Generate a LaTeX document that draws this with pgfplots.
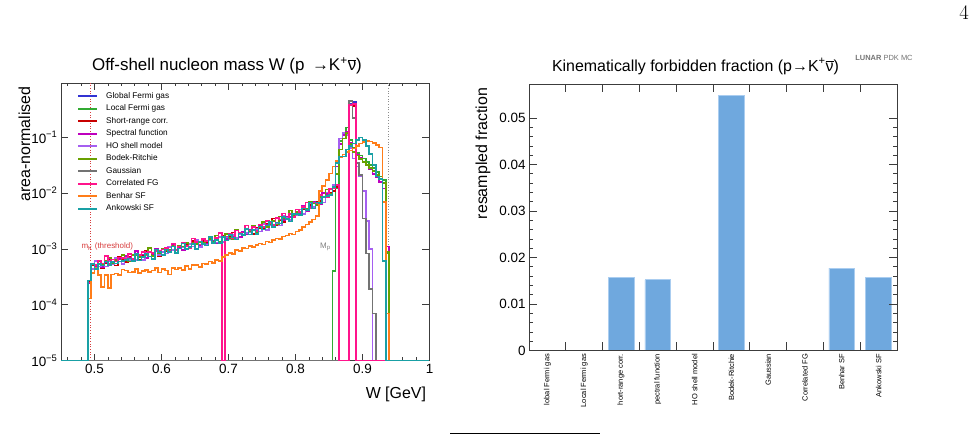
\documentclass[border=0pt]{standalone}
\usepackage{fontspec}
\setmainfont{Liberation Sans}
\setsansfont{Liberation Sans}
\usepackage{pgfplots}
\usepackage{pgfplotstable}
\pgfplotsset{compat=1.18}

\definecolor{cGFG}{RGB}{50,50,210}
\definecolor{cLFG}{RGB}{50,170,50}
\definecolor{cSRC}{RGB}{200,0,0}
\definecolor{cSF}{RGB}{190,0,190}
\definecolor{cHO}{RGB}{165,95,240}
\definecolor{cBR}{RGB}{105,160,0}
\definecolor{cGS}{RGB}{115,115,115}
\definecolor{cCFG}{RGB}{255,20,140}
\definecolor{cBSF}{RGB}{255,125,25}
\definecolor{cASF}{RGB}{25,160,165}
\definecolor{barfill}{RGB}{111,168,222}
\definecolor{baredge}{RGB}{170,205,240}
\definecolor{framec}{RGB}{60,60,60}
\definecolor{mkred}{RGB}{215,60,60}

\newcommand{\fs}[1]{\fontsize{#1}{#1}\selectfont}

\pgfplotsset{
  hist/.style={const plot mark left, line width=1.6bp,
    legend image code/.code={\draw[##1, line width=2bp] (0bp,0bp) -- (19bp,0bp);}},
}

% area-normalised W distributions, bin width 0.005 GeV, value at left bin edge
\pgfplotstableread{
x gfg lfg src sf ho br gs cfg bsf asf
0.45 1e-5 1e-5 1e-5 1e-5 1e-5 1e-5 1e-5 1e-5 1e-5 1e-5
0.49 1e-5 1e-5 2.6e-4 2.4e-4 2.5e-4 2.7e-4 1e-5 2.5e-4 1.3e-4 2.7e-4
0.495 1e-5 1e-5 5.1e-4 5.5e-4 4.4e-4 5.3e-4 1e-5 5.4e-4 3.7e-4 5.4e-4
0.500 1e-5 1e-5 4.6e-4 4.9e-4 6.1e-4 4.6e-4 1e-5 5.1e-4 4.5e-4 4.4e-4
0.505 1e-5 1e-5 6.0e-4 6.0e-4 4.8e-4 6.1e-4 1e-5 6.2e-4 3.4e-4 5.3e-4
0.510 1e-5 1e-5 4.6e-4 4.7e-4 5.5e-4 5.2e-4 1e-5 5.5e-4 2.1e-4 5.0e-4
0.515 1e-5 1e-5 5.5e-4 5.7e-4 4.8e-4 6.2e-4 1e-5 7.4e-4 3.4e-4 5.9e-4
0.520 1e-5 1e-5 6.3e-4 6.9e-4 6.1e-4 7.0e-4 1e-5 5.4e-4 2.0e-4 5.0e-4
0.525 1e-5 1e-5 5.5e-4 5.5e-4 5.3e-4 5.5e-4 1e-5 6.5e-4 3.5e-4 5.8e-4
0.530 1e-5 1e-5 5.0e-4 6.0e-4 6.8e-4 6.3e-4 1e-5 5.9e-4 3.6e-4 5.5e-4
0.535 1e-5 1e-5 7.3e-4 6.6e-4 5.9e-4 5.9e-4 1e-5 7.0e-4 3.4e-4 5.9e-4
0.540 1e-5 1e-5 6.5e-4 5.5e-4 5.4e-4 7.7e-4 1e-5 6.8e-4 4.3e-4 6.0e-4
0.545 1e-5 1e-5 5.8e-4 7.5e-4 6.9e-4 6.7e-4 1e-5 6.6e-4 4.1e-4 6.3e-4
0.550 1e-5 1e-5 7.3e-4 6.8e-4 6.3e-4 5.9e-4 1e-5 8.1e-4 3.8e-4 6.7e-4
0.555 1e-5 1e-5 6.5e-4 6.3e-4 8.0e-4 7.8e-4 1e-5 6.6e-4 3.9e-4 6.0e-4
0.560 1e-5 1e-5 8.2e-4 9.1e-4 6.4e-4 7.7e-4 1e-5 8.1e-4 4.4e-4 8.1e-4
0.565 1e-5 1e-5 6.3e-4 7.1e-4 7.4e-4 7.2e-4 1e-5 7.7e-4 3.7e-4 6.2e-4
0.570 1e-5 1e-5 7.5e-4 8.0e-4 6.3e-4 8.7e-4 1e-5 8.8e-4 4.0e-4 7.2e-4
0.575 1e-5 1e-5 9.1e-4 6.9e-4 8.4e-4 7.8e-4 1e-5 7.6e-4 4.2e-4 8.3e-4
0.580 1e-5 1e-5 7.3e-4 8.9e-4 7.3e-4 10.3e-4 1e-5 8.9e-4 3.9e-4 7.3e-4
0.585 1e-5 1e-5 8.0e-4 7.8e-4 8.5e-4 7.5e-4 1e-5 8.5e-4 4.1e-4 6.6e-4
0.590 1e-5 1e-5 9.0e-4 9.9e-4 9.7e-4 9.1e-4 1e-5 9.1e-4 4.6e-4 9.8e-4
0.595 1e-5 1e-5 7.5e-4 8.9e-4 7.7e-4 8.4e-4 1e-5 9.3e-4 3.8e-4 8.7e-4
0.600 1e-5 1e-5 10.1e-4 8.0e-4 8.9e-4 10.1e-4 1e-5 9.7e-4 4.4e-4 7.7e-4
0.605 1e-5 1e-5 9.2e-4 10.1e-4 8.3e-4 9.6e-4 1e-5 10.3e-4 4.1e-4 9.7e-4
0.610 1e-5 1e-5 8.6e-4 9.5e-4 10.8e-4 9.5e-4 1e-5 9.4e-4 3.5e-4 8.9e-4
0.615 1e-5 1e-5 12.3e-4 12.1e-4 9.5e-4 11.6e-4 1e-5 12.5e-4 4.5e-4 11.0e-4
0.620 1e-5 1e-5 9.6e-4 9.4e-4 8.4e-4 9.6e-4 1e-5 9.5e-4 4.3e-4 8.4e-4
0.625 1e-5 1e-5 10.8e-4 10.8e-4 11.0e-4 11.3e-4 1e-5 11.0e-4 4.6e-4 10.1e-4
0.630 1e-5 1e-5 9.5e-4 9.5e-4 10.8e-4 11.0e-4 1e-5 12.9e-4 4.2e-4 12.4e-4
0.635 1e-5 1e-5 12.2e-4 12.7e-4 10.1e-4 12.7e-4 1e-5 11.3e-4 4.9e-4 9.9e-4
0.640 1e-5 1e-5 10.5e-4 10.9e-4 12.3e-4 11.0e-4 1e-5 10.3e-4 4.4e-4 10.8e-4
0.645 1e-5 1e-5 13.7e-4 12.8e-4 11.1e-4 12.8e-4 1e-5 15.4e-4 5.1e-4 12.3e-4
0.650 1e-5 1e-5 12.0e-4 14.6e-4 14.6e-4 12.2e-4 1e-5 13.3e-4 5.2e-4 10.0e-4
0.655 1e-5 1e-5 10.8e-4 11.3e-4 10.7e-4 13.2e-4 1e-5 11.9e-4 4.7e-4 13.6e-4
0.660 1e-5 1e-5 13.7e-4 13.1e-4 13.0e-4 13.1e-4 1e-5 15.0e-4 5.5e-4 12.3e-4
0.665 1e-5 1e-5 12.9e-4 12.5e-4 11.9e-4 14.0e-4 1e-5 13.9e-4 5.3e-4 11.6e-4
0.670 1e-5 1e-5 16.3e-4 16.0e-4 14.3e-4 14.9e-4 1e-5 16.7e-4 5.9e-4 16.3e-4
0.675 1e-5 1e-5 12.7e-4 13.9e-4 13.5e-4 13.4e-4 1e-5 13.0e-4 5.6e-4 12.8e-4
0.680 1e-5 1e-5 14.7e-4 12.4e-4 13.1e-4 17.5e-4 1e-5 15.5e-4 6.4e-4 14.5e-4
0.685 1e-5 1e-5 12.9e-4 16.6e-4 16.4e-4 13.6e-4 1e-5 19.2e-4 6.0e-4 12.8e-4
0.690 1e-5 1e-5 17.1e-4 15.9e-4 13.4e-4 15.9e-4 1e-5 1e-5 7.2e-4 16.3e-4
0.695 1e-5 1e-5 14.7e-4 14.9e-4 16.1e-4 18.3e-4 1e-5 16.6e-4 7.8e-4 14.1e-4
0.700 1e-5 1e-5 16.9e-4 18.0e-4 15.2e-4 15.8e-4 1e-5 18.5e-4 8.5e-4 17.9e-4
0.705 1e-5 1e-5 19.8e-4 16.4e-4 17.9e-4 14.8e-4 1e-5 15.4e-4 8.1e-4 16.1e-4
0.710 1e-5 1e-5 15.7e-4 21.9e-4 15.8e-4 22.3e-4 1e-5 21.4e-4 9.6e-4 14.8e-4
0.715 1e-5 1e-5 18.2e-4 16.2e-4 18.2e-4 19.2e-4 1e-5 19.4e-4 9.2e-4 18.9e-4
0.720 1e-5 1e-5 17.3e-4 19.9e-4 17.7e-4 17.7e-4 1e-5 18.2e-4 10.5e-4 17.7e-4
0.725 1e-5 1e-5 22.6e-4 18.3e-4 19.5e-4 22.6e-4 1e-5 26.3e-4 10.1e-4 22.8e-4
0.730 1e-5 1e-5 20.2e-4 22.4e-4 19.8e-4 20.8e-4 1e-5 21.2e-4 11.4e-4 18.2e-4
0.735 1e-5 1e-5 18.4e-4 21.8e-4 21.2e-4 25.9e-4 1e-5 24.4e-4 10.8e-4 21.6e-4
0.740 1e-5 1e-5 24.1e-4 21.2e-4 22.6e-4 19.9e-4 1e-5 21.0e-4 11.7e-4 18.4e-4
0.745 1e-5 1e-5 23.6e-4 26.3e-4 20.6e-4 24.5e-4 1e-5 27.5e-4 12.4e-4 25.2e-4
0.750 1e-5 1e-5 22.6e-4 22.3e-4 27.8e-4 30.2e-4 1e-5 24.5e-4 12.0e-4 22.1e-4
0.755 1e-5 1e-5 28.1e-4 27.1e-4 21.6e-4 24.6e-4 1e-5 31.6e-4 13.5e-4 26.1e-4
0.760 1e-5 1e-5 26.1e-4 26.9e-4 26.4e-4 28.0e-4 1e-5 29.1e-4 13.0e-4 30.9e-4
0.765 1e-5 1e-5 35.0e-4 31.6e-4 31.0e-4 31.9e-4 1e-5 26.8e-4 14.6e-4 24.5e-4
0.770 1e-5 1e-5 26.9e-4 28.7e-4 28.1e-4 27.2e-4 1e-5 35.6e-4 15.4e-4 29.9e-4
0.775 1e-5 1e-5 33.2e-4 33.5e-4 26.2e-4 37.9e-4 1e-5 33.5e-4 14.9e-4 28.4e-4
0.780 1e-5 1e-5 30.5e-4 32.8e-4 39.7e-4 35.1e-4 1e-5 43.4e-4 16.8e-4 37.4e-4
0.785 1e-5 1e-5 38.3e-4 36.9e-4 35.9e-4 34.1e-4 1e-5 35.1e-4 17.5e-4 34.1e-4
0.790 1e-5 1e-5 37.2e-4 37.6e-4 32.7e-4 48.7e-4 1e-5 41.7e-4 18.8e-4 30.9e-4
0.795 1e-5 1e-5 37.8e-4 41.0e-4 43.0e-4 40.2e-4 1e-5 37.4e-4 18.1e-4 42.6e-4
0.800 1e-5 1e-5 47.1e-4 44.6e-4 39.6e-4 46.3e-4 1e-5 50.9e-4 20.5e-4 41.7e-4
0.805 1e-5 1e-5 40.7e-4 42.0e-4 50.5e-4 41.6e-4 1e-5 46.0e-4 22.0e-4 40.7e-4
0.810 1e-5 1e-5 51.9e-4 58.8e-4 41.7e-4 57.3e-4 1e-5 56.8e-4 24.8e-4 53.4e-4
0.815 1e-5 1e-5 51.5e-4 47.3e-4 52.5e-4 52.0e-4 1e-5 67.7e-4 27.5e-4 49.4e-4
0.820 1e-5 1e-5 61.8e-4 57.3e-4 66.3e-4 69.1e-4 1e-5 54.5e-4 30.0e-4 67.4e-4
0.825 1e-5 1e-5 57.4e-4 70.3e-4 56.1e-4 64.8e-4 1e-5 67.9e-4 33.8e-4 53.1e-4
0.830 1e-5 1e-5 68.7e-4 64.1e-4 64.1e-4 60.8e-4 1e-5 66.1e-4 39.0e-4 67.4e-4
0.835 1e-5 1e-5 71.9e-4 64.5e-4 78.5e-4 84.5e-4 1e-5 92.6e-4 110e-4 66.0e-4
0.840 1e-5 1e-5 82.9e-4 101e-4 68.3e-4 83.7e-4 1e-5 87.0e-4 135e-4 85.4e-4
0.845 1e-5 1e-5 90.3e-4 95.8e-4 102e-4 116e-4 1e-5 84.8e-4 170e-4 88.5e-4
0.850 1e-5 1e-5 101e-4 92e-4 99e-4 97e-4 1e-5 119e-4 225e-4 92e-4
0.855 1e-5 4e-4 0.011 0.013 0.014 0.013 1e-5 0.012 0.030 0.013
0.860 1e-5 0.012 0.013 0.030 0.035 0.022 1e-5 0.014 0.038 0.035
0.865 1e-5 0.085 1e-5 0.075 0.095 0.060 1e-5 1e-5 0.044 0.045
0.870 1e-5 0.12 1e-5 0.11 0.12 0.095 1e-5 1e-5 0.049 0.045
0.875 1e-5 0.15 1e-5 0.125 0.11 0.12 1e-5 1e-5 0.054 0.060
0.880 0.40 0.09 0.37 0.08 0.065 0.075 0.45 0.38 0.058 0.070
0.885 0.43 0.065 0.36 0.055 0.042 0.055 0.22 0.40 0.063 0.078
0.890 1e-5 0.052 1e-5 0.048 0.030 0.047 0.035 1e-5 0.070 0.090
0.895 1e-5 0.047 1e-5 0.043 0.020 0.041 0.021 1e-5 0.078 0.100
0.900 1e-5 0.042 1e-5 0.037 0.011 0.036 3.5e-3 1e-5 0.083 0.090
0.905 1e-5 0.036 1e-5 0.032 3.2e-3 0.032 8.3e-4 1e-5 0.085 0.070
0.910 1e-5 0.032 1e-5 0.027 1.0e-3 0.028 1.9e-4 1e-5 0.084 0.050
0.915 1e-5 0.028 1e-5 0.022 1e-5 0.025 7e-5 1e-5 0.080 0.032
0.920 1e-5 0.024 1e-5 0.019 1e-5 0.021 1e-5 1e-5 0.072 0.020
0.925 1e-5 0.020 1e-5 0.016 1e-5 0.018 1e-5 1e-5 0.066 0.018
0.930 1e-5 0.017 1e-5 0.012 1e-5 0.015 1e-5 1e-5 7e-3 6e-4
0.935 1e-5 8.5e-4 1e-5 1.1e-3 1e-5 9e-4 1e-5 1e-5 7e-5 1e-5
0.940 1e-5 1e-5 1e-5 1e-5 1e-5 1e-5 1e-5 1e-5 1e-5 1e-5
1.000 1e-5 1e-5 1e-5 1e-5 1e-5 1e-5 1e-5 1e-5 1e-5 1e-5
}\Wdata

\begin{document}
\begin{tikzpicture}
\path[use as bounding box] (0bp,0bp) rectangle (975bp,437bp);

% ---------------- left panel ----------------
\begin{axis}[
  at={(61bp,76.5bp)}, anchor=south west, scale only axis,
  width=368.5bp, height=277.5bp,
  xmin=0.45, xmax=1.0, ymin=1e-5, ymax=0.94,
  ymode=log, log basis y=10,
  axis line style={framec, line width=0.9bp},
  tick style={framec, line width=0.7bp},
  major tick length=7bp, minor tick length=3.5bp,
  tick label style={font=\fs{13.5}},
  xtick={0.5,0.6,0.7,0.8,0.9,1},
  minor xtick={0.46,0.48,0.52,0.54,0.56,0.58,0.62,0.64,0.66,0.68,0.72,0.74,0.76,0.78,0.82,0.84,0.86,0.88,0.92,0.94,0.96,0.98},
  xticklabel style={/pgf/number format/.cd, fixed, assume math mode=true},
  ytick={1e-5,1e-4,1e-3,1e-2,1e-1},
  yticklabel={\pgfmathtruncatemacro{\ex}{abs(round(\tick))}10\textsuperscript{−\ex}},
  title={Off-shell nucleon mass W (p \,→K\textsuperscript{+}$\overline{\mbox{ν}}$)},
  title style={at={(axis description cs:0.4505,1.0227)}, anchor=base, font=\fs{17}},
  xlabel={W [GeV]},
  xlabel style={at={(axis description cs:1,-0.137)}, anchor=base east, font=\fs{16}},
  ylabel={area-normalised},
  ylabel style={at={(axis description cs:-0.0841,1)}, anchor=base east, font=\fs{16}},
  legend style={at={(axis description cs:0.0434,0.9667)}, anchor=north west,
    draw=none, fill=none, inner sep=0pt, font=\fs{8.3}, row sep=5bp, column sep=8bp,
    nodes={inner sep=0pt, text height=6bp, text depth=1.5bp}},
  legend cell align=left,
]
\addplot[forget plot, mkred, dotted, line width=0.7bp] coordinates {(0.4937,1e-5) (0.4937,0.94)};
\addplot[forget plot, black!45, dotted, line width=0.7bp] coordinates {(0.9383,1e-5) (0.9383,0.94)};

\addplot[hist, cGFG] table[x=x,y=gfg]{\Wdata};
\addlegendentry{Global Fermi gas}
\addplot[hist, cLFG] table[x=x,y=lfg]{\Wdata};
\addlegendentry{Local Fermi gas}
\addplot[hist, cSRC] table[x=x,y=src]{\Wdata};
\addlegendentry{Short-range corr.}
\addplot[hist, cSF] table[x=x,y=sf]{\Wdata};
\addlegendentry{Spectral function}
\addplot[hist, cHO] table[x=x,y=ho]{\Wdata};
\addlegendentry{HO shell model}
\addplot[hist, cBR] table[x=x,y=br]{\Wdata};
\addlegendentry{Bodek-Ritchie}
\addplot[hist, cGS] table[x=x,y=gs]{\Wdata};
\addlegendentry{Gaussian}
\addplot[hist, cCFG] table[x=x,y=cfg]{\Wdata};
\addlegendentry{Correlated FG}
\addplot[hist, cBSF] table[x=x,y=bsf]{\Wdata};
\addlegendentry{Benhar SF}
\addplot[hist, cASF] table[x=x,y=asf]{\Wdata};
\addlegendentry{Ankowski SF}

\node[anchor=base west, text=mkred, font=\fs{8}] at (axis cs:0.4754,1e-3) {m\textsubscript{K} (threshold)};
\node[anchor=base west, text=black!50, font=\fs{8}] at (axis cs:0.8316,1e-3) {M\textsubscript{p}};
\end{axis}

% ---------------- right panel ----------------
\begin{axis}[
  at={(529bp,86.5bp)}, anchor=south west, scale only axis,
  width=368bp, height=266bp,
  xmin=-0.5, xmax=9.5, ymin=0, ymax=0.0572,
  axis on top,
  axis line style={framec, line width=0.9bp},
  tick style={framec, line width=0.7bp},
  major tick length=8bp, minor tick length=4bp,
  tick label style={font=\fs{13.5}},
  xtick={-0.5,0.5,1.5,2.5,3.5,4.5,5.5,6.5,7.5,8.5},
  xticklabels={lobal Fermi gas, Local Fermi gas, hort-range corr., pectral function, HO shell model, Bodek-Ritchie, Gaussian, Correlated FG, Benhar SF, Ankowski SF},
  xticklabel style={xshift=18.4bp, rotate=90, anchor=east, font=\fs{7.5}},
  ytick={0,0.01,0.02,0.03,0.04,0.05}, minor y tick num=4,
  scaled y ticks=false,
  yticklabel style={/pgf/number format/.cd, fixed, precision=2, assume math mode=true},
  title={Kinematically forbidden fraction (p→K\textsuperscript{+}$\overline{\mbox{ν}}$)},
  title style={at={(axis description cs:0.4524,1.0282)}, anchor=base, font=\fs{16}},
  ylabel={resampled fraction},
  ylabel style={at={(axis description cs:-0.114,1)}, anchor=base east, font=\fs{16}},
]
\addplot[ybar, bar width=25.8bp, fill=barfill, draw=baredge, line width=0.8bp]
  coordinates {(0,0) (1,0) (2,0.0158) (3,0.0152) (4,0) (5,0.0548) (6,0) (7,0) (8,0.0177) (9,0.0158)};
\end{axis}

\node[text=black!55, font=\fs{7.5}] at (884bp,379bp) {\textbf{LUNAR} PDK MC};
\node[font=\fs{20}] at (964bp,424bp) {$4$};
\draw[line width=0.8bp] (450bp,4bp) -- (600bp,4bp);
\end{tikzpicture}
\end{document}
